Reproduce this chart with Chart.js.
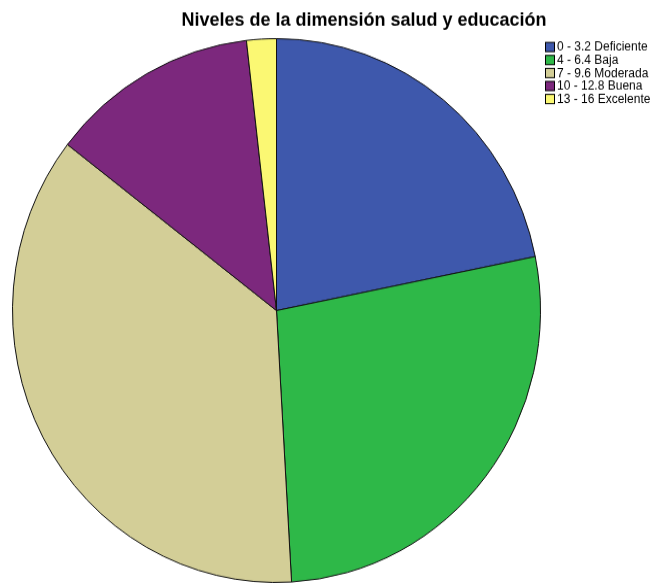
<!DOCTYPE html>
<html>
<head>
<meta charset="utf-8">
<script src="https://cdn.jsdelivr.net/npm/chart.js@4/dist/chart.umd.min.js"></script>
<style>
html,body{margin:0;padding:0;background:#fff;width:656px;height:584px;overflow:hidden;}
#outer{width:656px;height:584px;position:relative;overflow:hidden;}
#wrap{width:656px;height:567px;position:absolute;left:0;top:0;transform:scaleY(1.03);transform-origin:0 0;}
</style>
</head>
<body>
<div id="outer"><div id="wrap"><canvas id="c" width="656" height="567"></canvas></div></div>
<script>
const titleText = "Niveles de la dimensión salud y educación";
const categories = ["0 - 3.2 Deficiente", "4 - 6.4 Baja", "7 - 9.6 Moderada", "10 - 12.8 Buena", "13 - 16 Excelente"];
const counts = [12, 15, 20, 7, 1];
const colors = ["#3E58AC", "#2EB848", "#D3CE97", "#7C287D", "#FBF873"];

const SY = 1.03;
const overlay = {
  id: 'overlay',
  afterDraw(chart) {
    const ctx = chart.ctx;
    ctx.save();
    ctx.fillStyle = '#000';
    ctx.font = 'bold 18px "Liberation Sans", Arial, sans-serif';
    ctx.textAlign = 'center';
    ctx.textBaseline = 'middle';
    ctx.fillText(titleText, 364, 21 / SY);
    ctx.font = '12px "Liberation Sans", Arial, sans-serif';
    ctx.textAlign = 'left';
    const labels = chart.data.labels;
    const bg = chart.data.datasets[0].backgroundColor;
    labels.forEach((l, i) => {
      const y = (47 + i * 13) / SY;
      ctx.fillStyle = bg[i];
      ctx.fillRect(545.5, y - 4.5, 9, 9);
      ctx.strokeStyle = '#000';
      ctx.lineWidth = 1;
      ctx.strokeRect(545.5, y - 4.5, 9, 9);
      ctx.fillStyle = '#000';
      ctx.fillText(l, 557, y + 0.5);
    });
    ctx.restore();
  }
};

new Chart(document.getElementById('c'), {
  type: 'pie',
  data: {
    labels: categories,
    datasets: [{
      data: counts,
      backgroundColor: colors,
      borderColor: '#111',
      borderWidth: 1
    }]
  },
  options: {
    responsive: false,
    animation: false,
    layout: { padding: { left: 12, right: 115, top: 37, bottom: 1 } },
    plugins: {
      legend: { display: false },
      title: { display: false },
      tooltip: { enabled: false }
    }
  },
  plugins: [overlay]
});
</script>
</body>
</html>
